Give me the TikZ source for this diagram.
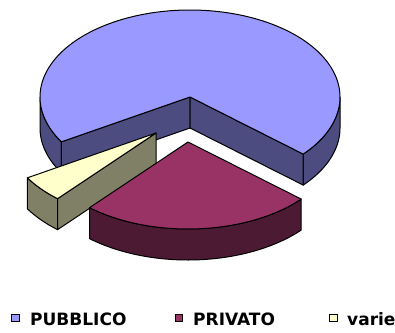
\documentclass[tikz,border=0pt]{standalone}
\usepackage{fontspec}
\newfontfamily\legfont{DejaVu Sans}
\definecolor{pubtop}{HTML}{9999FF}
\definecolor{pubside}{HTML}{4C4C80}
\definecolor{privtop}{HTML}{993366}
\definecolor{privside}{HTML}{4C1A33}
\definecolor{vartop}{HTML}{FFFFCC}
\definecolor{varside}{HTML}{808066}
\tikzset{
  face/.style={draw=black, line width=1pt, line join=round},
  legbox/.style={draw=black, line width=0.9pt, minimum width=7.5pt, minimum height=7.5pt, inner sep=0pt},
  legtext/.style={anchor=base west, inner sep=0pt, font=\legfont\bfseries\fontsize{17}{19}\selectfont}
}
\begin{document}
\begin{tikzpicture}[x=1pt,y=-1pt]
\useasboundingbox (0,0) rectangle (395,332);
% ---- PUBBLICO slice (center 190,97)
\coordinate (B) at (190,97);
\coordinate (Bd) at (190,128);
\filldraw[face, fill=pubside] plot[domain=180:211, samples=30] ({190+150*cos(\x)},{97-87*sin(\x)})
  -- plot[domain=211:180, samples=30] ({190+150*cos(\x)},{128-87*sin(\x)}) -- cycle;
\filldraw[face, fill=pubside] plot[domain=-41:0, samples=30] ({190+150*cos(\x)},{97-87*sin(\x)})
  -- plot[domain=0:-41, samples=30] ({190+150*cos(\x)},{128-87*sin(\x)}) -- cycle;
\filldraw[face, fill=pubside] (B) -- ({190+150*cos(211)},{97-87*sin(211)}) -- ++(0,31) -- (Bd) -- cycle;
\filldraw[face, fill=pubside] (B) -- ({190+150*cos(-41)},{97-87*sin(-41)}) -- ++(0,31) -- (Bd) -- cycle;
\filldraw[face, fill=pubtop] (B) -- plot[domain=-41:211, samples=150] ({190+150*cos(\x)},{97-87*sin(\x)}) -- cycle;
% ---- varie slice (center 156,133)
\coordinate (V) at (156,133);
\coordinate (Vd) at (156,164);
\filldraw[face, fill=varside] plot[domain=211:229, samples=20] ({156+150*cos(\x)},{133-87*sin(\x)})
  -- plot[domain=229:211, samples=20] ({156+150*cos(\x)},{164-87*sin(\x)}) -- cycle;
\filldraw[face, fill=varside] (V) -- ({156+150*cos(229)},{133-87*sin(229)}) -- ++(0,31) -- (Vd) -- cycle;
\filldraw[face, fill=vartop] (V) -- plot[domain=211:229, samples=20] ({156+150*cos(\x)},{133-87*sin(\x)}) -- cycle;
% ---- PRIVATO slice (center 188,142)
\coordinate (P) at (188,142);
\filldraw[face, fill=privside] plot[domain=229:319, samples=60] ({188+150*cos(\x)},{142-87*sin(\x)})
  -- plot[domain=319:229, samples=60] ({188+150*cos(\x)},{173-87*sin(\x)}) -- cycle;
\filldraw[face, fill=privtop] (P) -- plot[domain=229:319, samples=60] ({188+150*cos(\x)},{142-87*sin(\x)}) -- cycle;
% ---- legend
\node[legbox, fill=pubtop] (k1) at (15.5,318) {};
\node[legtext] (t1) at (30,325) {PUBBLICO};
\node[legbox, fill=privtop] (k2) at (179,318) {};
\node[legtext] (t2) at (193,325) {PRIVATO};
\node[legbox, fill=vartop] (k3) at (333.5,318) {};
\node[legtext] (t3) at (347,325) {varie};
\end{tikzpicture}
\end{document}
